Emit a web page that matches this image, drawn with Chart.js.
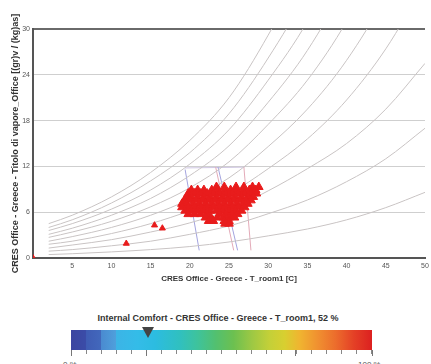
<!DOCTYPE html>
<html>
<head>
<meta charset="utf-8">
<script src="https://cdn.jsdelivr.net/npm/chart.js@4"></script>
<style>
  html, body { margin: 0; padding: 0; background: #fff; overflow: hidden; }
  body { width: 431px; height: 364px; position: relative; font-family: "Liberation Sans", Arial, sans-serif; }
  #wrap { position: absolute; left: 0; top: 0; width: 431px; height: 292px; }
  #cbTitle { position: absolute; left: 0; width: 436px; top: 313px; text-align: center; font-size: 9px; font-weight: bold; color: #333; }
  #cbBar { position: absolute; left: 71px; top: 330px; width: 301px; height: 20px;
    background: linear-gradient(to right, #3b45a0 0%, #3b4ca8 5%, #3f5cb4 5%, #4268bc 10%, #4a8ad0 10%, #4fa0dc 15%, #3cb4e6 15%, #34bce8 22%, #2cbce0 28%, #30c0c0 36%, #3ec39c 42%, #52c070 48%, #6cc050 54%, #9cc844 60%, #c4d038 66%, #d8cf30 71%, #f0b430 76%, #f09030 82%, #ec6c2c 88%, #e44026 94%, #dc2020 100%); }
  #cbTicks { position: absolute; left: 71px; top: 350px; width: 302px; height: 4px;
    background: repeating-linear-gradient(to right, #888 0px, #888 1px, transparent 1px, transparent 15px); }
  .maj { position: absolute; top: 350px; width: 1px; height: 6px; background: #777; }
  .cbLab { position: absolute; top: 360px; font-size: 8px; color: #555; }
  #marker { position: absolute; left: 142px; top: 327px; width: 0; height: 0;
    border-left: 6px solid transparent; border-right: 6px solid transparent; border-top: 11px solid #444; }
</style>
</head>
<body>
<div id="wrap"><canvas id="chart-area" width="431" height="292"></canvas></div>
<div id="cbTitle">Internal Comfort - CRES Office - Greece - T_room1, 52 %</div>
<div id="cbBar"></div>
<div id="cbTicks"></div>
<div class="maj" style="left:71px"></div>
<div class="maj" style="left:146px"></div>
<div class="maj" style="left:295px"></div>
<div class="maj" style="left:372px"></div>
<div id="marker"></div>
<div class="cbLab" style="left:63px">0 %</div>
<div class="cbLab" style="left:358px">100 %</div>
<script>
// psychrometric curves (relative humidity)
var rhTemps = [2, 5, 10, 15, 20, 25, 30, 35, 40, 45, 50];
var rh100 = [4.5, 5.6, 8.0, 11.2, 15.4, 21.0, 29.2, 39, 52, 69, 91];
var rh90 = [4.0, 5.0, 7.2, 10.1, 13.8, 18.9, 26.2, 35, 46.5, 61.5, 81];
var rh80 = [3.6, 4.5, 6.4, 8.9, 12.3, 16.8, 23.3, 31, 41.3, 55, 72];
var rh70 = [3.1, 3.9, 5.6, 7.8, 10.8, 14.7, 20.4, 27.2, 36.2, 48, 63];
var rh60 = [2.7, 3.4, 4.8, 6.7, 9.2, 12.6, 17.5, 23.3, 31, 41, 54];
var rh50 = [2.2, 2.8, 4.0, 5.6, 7.7, 10.5, 14.6, 19.5, 25.9, 34.3, 45];
var rh40 = [1.8, 2.2, 3.2, 4.5, 6.2, 8.4, 11.7, 15.6, 20.7, 27.4, 36];
var rh30 = [1.3, 1.7, 2.4, 3.4, 4.6, 6.3, 8.8, 11.7, 15.0, 19.5, 25.5];
var rh20 = [0.9, 1.1, 1.6, 2.2, 3.1, 4.2, 5.8, 7.6, 10.0, 13.0, 17];
var rh10 = [0.45, 0.56, 0.8, 1.1, 1.5, 2.1, 2.9, 3.8, 5.0, 6.6, 8.6];
var rhCurves = [rh100, rh90, rh80, rh70, rh60, rh50, rh40, rh30, rh20, rh10];

// comfort zone boundaries
var winterLeftT = [19.4, 21.2], winterLeftW = [11.6, 1.0];
var winterRightT = [23.6, 26.1], winterRightW = [11.9, 1.0];
var summerLeftT = [23.3, 25.6], summerLeftW = [11.9, 1.0];
var summerRightT = [26.9, 27.8], summerRightW = [11.9, 1.0];
var zoneTopT = [19.4, 27.0], zoneTopW = [11.8, 11.9];

// hourly samples T_room1 [C] / vapour content (main cluster), row by row
var sampleT = [
  23.4, 24.4, 25.9, 26.9, 28.0, 28.8,
  20.2, 21.0, 21.8, 22.8, 23.6, 24.4, 25.2, 26.0, 26.8, 27.6, 28.4,
  19.8, 20.6, 21.4, 22.2, 23.0, 23.8, 24.6, 25.4, 26.2, 27.0, 27.8, 28.5,
  19.6, 20.2, 21.0, 21.8, 22.6, 23.4, 24.2, 25.0, 25.8, 26.6, 27.4, 28.1,
  19.3, 20.0, 20.8, 21.6, 22.4, 23.2, 24.0, 24.8, 25.6, 26.4, 27.2, 27.8,
  19.0, 19.6, 20.4, 21.2, 22.0, 22.8, 23.6, 24.4, 25.2, 26.0, 26.8, 27.4,
  19.0, 19.8, 20.6, 21.4, 22.2, 23.0, 23.8, 24.6, 25.4, 26.2, 27.0,
  19.4, 20.2, 21.0, 21.8, 22.6, 23.4, 24.2, 25.0, 25.8, 26.6,
  19.8, 20.6, 21.4, 22.2, 23.8, 24.6, 25.4, 26.1,
  22.0, 22.7, 23.5, 24.3, 25.0, 25.7,
  22.4, 23.0, 24.4, 25.0,
  24.5, 25.0
];
var sampleW = [
  9.3, 9.3, 9.3, 9.3, 9.3, 9.3,
  8.9, 8.9, 8.9, 8.9, 8.9, 8.9, 8.9, 8.9, 8.9, 8.9, 8.9,
  8.45, 8.45, 8.45, 8.45, 8.45, 8.45, 8.45, 8.45, 8.45, 8.45, 8.45, 8.45,
  8.0, 8.0, 8.0, 8.0, 8.0, 8.0, 8.0, 8.0, 8.0, 8.0, 8.0, 8.0,
  7.55, 7.55, 7.55, 7.55, 7.55, 7.55, 7.55, 7.55, 7.55, 7.55, 7.55, 7.55,
  7.1, 7.1, 7.1, 7.1, 7.1, 7.1, 7.1, 7.1, 7.1, 7.1, 7.1, 7.1,
  6.65, 6.65, 6.65, 6.65, 6.65, 6.65, 6.65, 6.65, 6.65, 6.65, 6.65,
  6.2, 6.2, 6.2, 6.2, 6.2, 6.2, 6.2, 6.2, 6.2, 6.2,
  5.75, 5.75, 5.75, 5.75, 5.75, 5.75, 5.75, 5.75,
  5.3, 5.3, 5.3, 5.3, 5.3, 5.3,
  4.85, 4.85, 4.85, 4.85,
  4.5, 4.5
];
// isolated samples
var outlierT = [15.5, 16.5, 11.9, 0];
var outlierW = [4.3, 3.9, 1.9, 0];

var yTicks = [0, 6, 12, 18, 24, 30];

var pairs = function(xs, ys) {
    var out = [];
    for (var i = 0; i < xs.length; i++) out.push({ x: xs[i], y: ys[i] });
    return out;
};
var lineSet = function(xs, ys, color) {
    return { type: 'line', data: pairs(xs, ys), borderColor: color, borderWidth: 1,
             pointRadius: 0, fill: false, cubicInterpolationMode: 'monotone', order: 2 };
};

var datasets = [{
    type: 'scatter',
    data: pairs(sampleT, sampleW),
    pointStyle: 'triangle',
    pointRadius: 5,
    backgroundColor: '#e81c1c',
    borderColor: '#e81c1c',
    borderWidth: 1,
    order: 0
}, {
    type: 'scatter',
    data: pairs(outlierT, outlierW),
    pointStyle: 'triangle',
    pointRadius: 3.5,
    backgroundColor: '#e81c1c',
    borderColor: '#e81c1c',
    borderWidth: 1,
    order: 0
}];
rhCurves.forEach(function(c) {
    datasets.push(lineSet(rhTemps, c, '#c9c4c4'));
});
datasets.push(lineSet(winterLeftT, winterLeftW, '#a3a3de'));
datasets.push(lineSet(winterRightT, winterRightW, '#a3a3de'));
datasets.push(lineSet(summerLeftT, summerLeftW, '#e3aab8'));
datasets.push(lineSet(summerRightT, summerRightW, '#e3aab8'));
datasets.push(lineSet(zoneTopT, zoneTopW, '#cfc6e2'));

var config = {
    type: 'scatter',
    data: { datasets: datasets },
    options: {
        responsive: false,
        animation: false,
        layout: { padding: { top: 29, right: 0, left: 0, bottom: 0 } },
        plugins: { legend: { display: false }, tooltip: { enabled: false } },
        scales: {
            x: {
                type: 'linear',
                min: 0,
                max: 50,
                afterFit: function(s) { s.height = 34; s.paddingLeft = 0; s.paddingRight = 0; },
                ticks: {
                    stepSize: 5,
                    padding: 4,
                    color: '#555',
                    font: { size: 7, family: 'Liberation Sans' },
                    maxRotation: 0,
                    callback: function(v) { return v === 0 ? '' : v; }
                },
                grid: { display: false, drawTicks: false },
                border: { display: true, color: '#555', width: 2 },
                title: {
                    display: true,
                    text: 'CRES Office - Greece - T_room1 [C]',
                    color: '#333',
                    font: { size: 8, weight: 'bold', family: 'Liberation Sans' },
                    padding: { top: 0, bottom: 8 }
                }
            },
            y: {
                type: 'linear',
                min: 0,
                max: 30,
                afterFit: function(s) { s.width = 33; },
                afterBuildTicks: function(s) { s.ticks = yTicks.map(function(v) { return { value: v }; }); },
                ticks: {
                    padding: 3,
                    color: '#555',
                    font: { size: 7, family: 'Liberation Sans' }
                },
                grid: {
                    drawTicks: false,
                    color: function(c) { return c.tick && c.tick.value === 30 ? '#6a6a6a' : '#cfcfcf'; },
                    lineWidth: function(c) { return c.tick && c.tick.value === 30 ? 2 : 1; }
                },
                border: { display: true, color: '#555', width: 2 },
                title: {
                    display: true,
                    text: 'CRES Office - Greece - Titolo di vapore_Office [(gr)v / (kg)as]',
                    color: '#333',
                    font: { size: 9, weight: 'bold', family: 'Liberation Sans' },
                    padding: { top: 10, bottom: 0 }
                }
            }
        }
    }
};

window.onload = function() {
    var ctx = document.getElementById('chart-area').getContext('2d');
    window.myChart = new Chart(ctx, config);
};
</script>
</body>
</html>
